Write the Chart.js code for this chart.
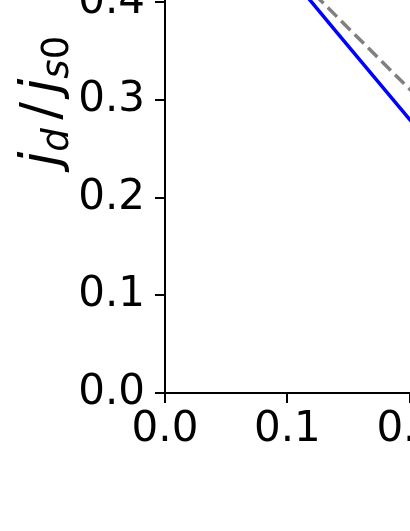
<!DOCTYPE html>
<html>
<head>
<meta charset="utf-8">
<script src="https://cdn.jsdelivr.net/npm/chart.js@4.4.0/dist/chart.umd.min.js"></script>
<style>
    html, body { margin: 0; padding: 0; overflow: hidden; background: #fff; width: 410px; height: 531px; }
    #wrap { position: absolute; left: 0; top: -228px; }
</style>
</head>
<body>
<div id="wrap"><canvas id="chart" width="817" height="741"></canvas></div>
<script>
const xTicks = [0.0, 0.1, 0.2, 0.3, 0.4, 0.5];
const yTicks = [0.0, 0.1, 0.2, 0.3, 0.4, 0.5, 0.6];
const xValues = [0.10, 0.12, 0.14, 0.16, 0.18, 0.20, 0.22];
const solidValues = [0.430, 0.400, 0.370, 0.340, 0.310, 0.280, 0.250];
const dashedValues = [0.436, 0.411, 0.386, 0.361, 0.336, 0.311, 0.286];
// y label pieces: text, italic?, subscript?
const yTitleParts = [
    ['j', true, false],
    ['d', true, true],
    ['/', false, false],
    ['j', true, false],
    ['s', true, true],
    ['0', false, true]
];

const FONT = '"DejaVu Sans", sans-serif';

// draws the rotated y axis title with subscripts
const yTitlePlugin = {
    id: 'yTitle',
    afterDraw(chart) {
        const ctx = chart.ctx;
        const area = chart.chartArea;
        const F = 53;
        const items = yTitleParts.map(([t, it, sub]) => {
            const size = sub ? F * 0.7 : F;
            const font = (it ? 'italic ' : '') + size + 'px ' + FONT;
            ctx.font = font;
            const gap = t === '/' ? F * 0.16 : 0;
            return { t, font, dy: sub ? F * 0.19 : 0, gap, w: ctx.measureText(t).width };
        });
        const total = items.reduce((s, i) => s + i.w + 2 * i.gap, 0);
        ctx.save();
        ctx.translate(58, (area.top + area.bottom) / 2 + 1);
        ctx.rotate(-Math.PI / 2);
        ctx.fillStyle = '#000';
        ctx.textBaseline = 'alphabetic';
        let x = -total / 2;
        items.forEach(i => {
            ctx.font = i.font;
            ctx.fillText(i.t, x + i.gap, i.dy);
            x += i.w + 2 * i.gap;
        });
        ctx.restore();
    }
};

const tickFont = { family: FONT, size: 42 };

new Chart(document.getElementById('chart').getContext('2d'), {
    type: 'scatter',
    data: {
        datasets: [
            {
                label: 'solid',
                data: xValues.map((x, i) => ({ x: x, y: solidValues[i] })),
                showLine: true,
                borderColor: '#0000ff',
                borderWidth: 3.5,
                pointRadius: 0
            },
            {
                label: 'dashed',
                data: xValues.map((x, i) => ({ x: x, y: dashedValues[i] })),
                showLine: true,
                borderColor: '#808080',
                borderWidth: 3.5,
                borderDash: [13, 6],
                pointRadius: 0
            }
        ]
    },
    options: {
        responsive: false,
        animation: false,
        layout: { padding: { top: 30, right: 40, left: 0, bottom: 0 } },
        plugins: {
            legend: { display: false },
            tooltip: { enabled: false }
        },
        scales: {
            x: {
                type: 'linear',
                min: 0,
                max: 0.5,
                afterBuildTicks: scale => { scale.ticks = xTicks.map(v => ({ value: v })); },
                afterFit: scale => { scale.height = 120; },
                ticks: {
                    color: '#000',
                    font: tickFont,
                    padding: 2,
                    maxRotation: 0,
                    autoSkip: false,
                    callback: v => v.toFixed(1)
                },
                grid: {
                    drawOnChartArea: false,
                    tickLength: 10,
                    tickColor: '#000',
                    tickWidth: 2,
                    lineWidth: 2
                },
                border: { display: true, color: '#000', width: 2 }
            },
            y: {
                type: 'linear',
                min: 0,
                max: 0.6,
                afterBuildTicks: scale => { scale.ticks = yTicks.map(v => ({ value: v })); },
                afterFit: scale => { scale.width = 165; },
                ticks: {
                    color: '#000',
                    font: tickFont,
                    padding: 10,
                    autoSkip: false,
                    callback: v => v.toFixed(1)
                },
                grid: {
                    drawOnChartArea: false,
                    tickLength: 10,
                    tickColor: '#000',
                    tickWidth: 2,
                    lineWidth: 2
                },
                border: { display: true, color: '#000', width: 2 }
            }
        }
    },
    plugins: [yTitlePlugin]
});
</script>
</body>
</html>
